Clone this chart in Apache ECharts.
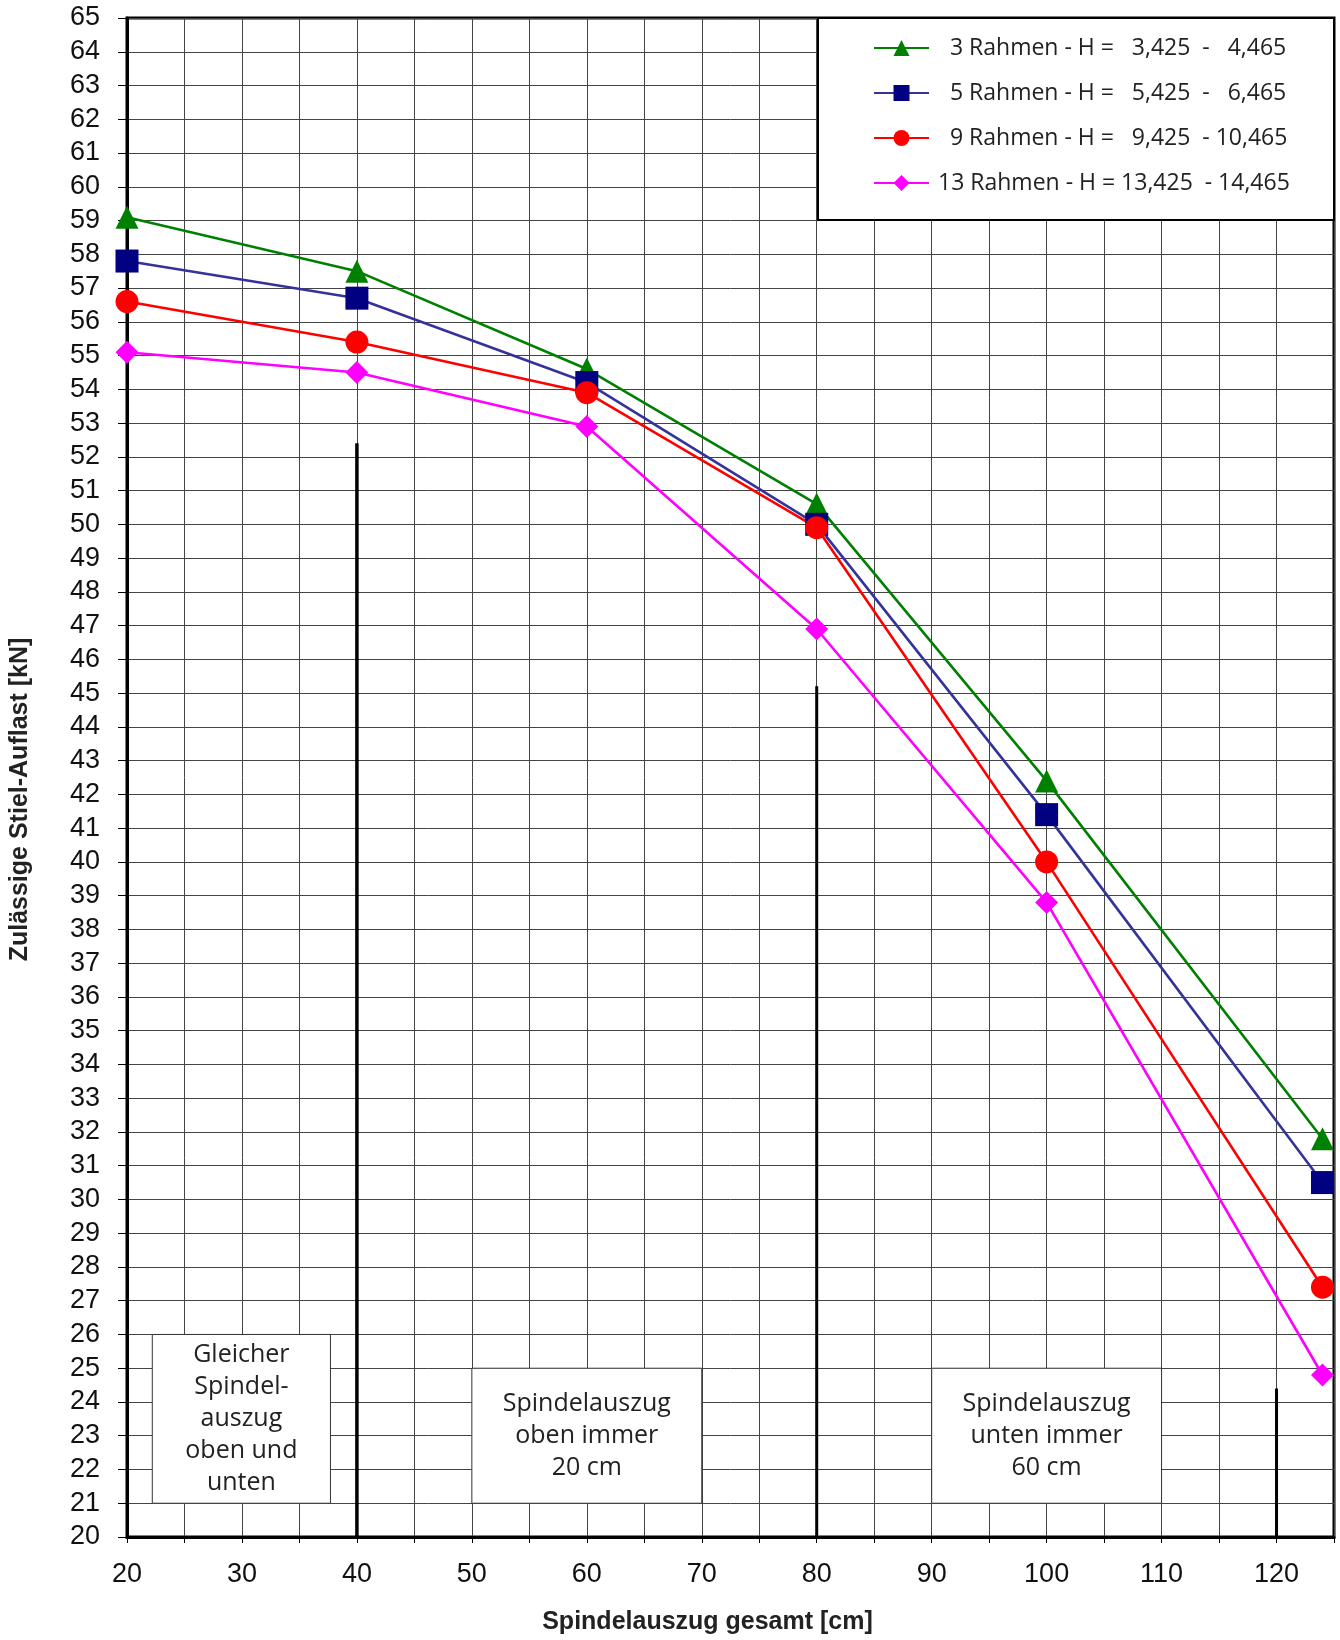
<!DOCTYPE html>
<html>
<head>
<meta charset="utf-8">
<script src="https://cdn.jsdelivr.net/npm/echarts@6/dist/echarts.min.js"></script>
<style>
    html, body { margin: 0; padding: 0; background: #fff; }
    #chart { width: 1340px; height: 1640px; }
</style>
</head>
<body>
<div id="chart"></div>
<script>
    // Spindelauszug gesamt [cm]
    var spindel = [20, 40, 60, 80, 100, 124];

    // zulaessige Stiel-Auflast [kN] je Rahmenanzahl
    var rahmen3  = [59.1, 57.5, 54.6, 50.6, 42.4, 31.8];
    var rahmen5  = [57.8, 56.7, 54.2, 50.0, 41.4, 30.5];
    var rahmen9  = [56.6, 55.4, 53.9, 49.9, 40.0, 27.4];
    var rahmen13 = [55.1, 54.5, 52.9, 46.9, 38.8, 24.8];

    var seriesNames = [
        '  3 Rahmen - H =   3,425  -   4,465',
        '  5 Rahmen - H =   5,425  -   6,465',
        '  9 Rahmen - H =   9,425  - 10,465',
        '13 Rahmen - H = 13,425  - 14,465'
    ];

    // senkrechte Trennlinien (x, oberes Ende)
    var dividerX   = [40, 80, 120];
    var dividerTop = [52.4, 45.2, 24.4];

    // Textkaesten [x1, y1, x2, y2, text]
    var noteBoxes = [
        [22.2, 26, 37.7, 21, 'Gleicher\nSpindel-\nauszug\noben und\nunten'],
        [50, 25, 70, 21, 'Spindelauszug\noben immer\n20 cm'],
        [90, 25, 110, 21, 'Spindelauszug\nunten immer\n60 cm']
    ];

    function pairs(ys) {
        return spindel.map(function (x, i) { return [x, ys[i]]; });
    }

    var myChart = echarts.init(document.getElementById('chart'));

    var lineSeries = [
        { name: seriesNames[0], data: pairs(rahmen3),  symbol: 'triangle', line: '#008000', mark: '#008000' },
        { name: seriesNames[1], data: pairs(rahmen5),  symbol: 'rect',     line: '#333399', mark: '#000080' },
        { name: seriesNames[2], data: pairs(rahmen9),  symbol: 'circle',   line: '#ff0000', mark: '#ff0000' },
        { name: seriesNames[3], data: pairs(rahmen13), symbol: 'diamond',  line: '#ff00ff', mark: '#ff00ff' }
    ].map(function (s) {
        return {
            name: s.name,
            type: 'line',
            data: s.data,
            symbol: s.symbol,
            symbolSize: 23,
            z: 5,
            lineStyle: { color: s.line, width: 2.6 },
            itemStyle: { color: s.mark },
            emphasis: { disabled: true },
            animation: false
        };
    });

    var dividerSeries = dividerX.map(function (x, i) {
        return {
            type: 'line',
            data: [[x, dividerTop[i]], [x, 20]],
            symbol: 'none',
            silent: true,
            z: 3,
            lineStyle: { color: '#000', width: i === 0 ? 3.5 : 3 },
            animation: false
        };
    });

    var boxSeries = {
        type: 'line',
        data: [],
        silent: true,
        z: 3,
        markArea: {
            silent: true,
            itemStyle: { color: '#fff', borderColor: '#333', borderWidth: 1 },
            label: {
                show: true,
                position: 'inside',
                color: '#222',
                fontFamily: 'Open Sans',
                fontSize: 25,
                lineHeight: 32,
                align: 'center',
                verticalAlign: 'middle'
            },
            data: noteBoxes.map(function (b) {
                return [
                    { coord: [b[0], b[1]], name: b[4] },
                    { coord: [b[2], b[3]] }
                ];
            })
        },
        animation: false
    };

    var option = {
        animation: false,
        grid: {
            left: 126,
            right: 6,
            top: 18,
            bottom: 102,
            show: true,
            borderColor: '#000',
            borderWidth: 3
        },
        graphic: [{
            type: 'rect',
            z: 3,
            shape: { x: 818, y: 18, width: 516, height: 202 },
            style: { fill: '#fff', stroke: '#000', lineWidth: 2 }
        }],
        legend: {
            data: seriesNames,
            orient: 'vertical',
            left: 868,
            top: 30,
            itemWidth: 55,
            itemHeight: 20,
            itemGap: 19,
            z: 6,
            textStyle: {
                fontFamily: 'Open Sans',
                fontSize: 23,
                lineHeight: 26,
                color: '#222',
                padding: [0, 0, 0, 4]
            }
        },
        xAxis: {
            type: 'value',
            min: 20,
            max: 125,
            interval: 5,
            name: 'Spindelauszug gesamt [cm]',
            nameLocation: 'middle',
            nameGap: 73,
            nameTextStyle: {
                fontFamily: 'Liberation Sans',
                fontWeight: 'bold',
                fontSize: 25,
                color: '#222',
                padding: [0, 46, 0, 0]
            },
            axisLine: { lineStyle: { color: '#000', width: 3 } },
            axisTick: { show: true, length: 6, lineStyle: { color: '#000' } },
            axisLabel: {
                margin: 24,
                fontFamily: 'Liberation Sans',
                fontSize: 27,
                color: '#111',
                formatter: function (v) {
                    return (v % 10 === 0 && v <= 120) ? String(v) : '';
                }
            },
            splitLine: { show: true, lineStyle: { color: '#444', width: 1 } }
        },
        yAxis: {
            type: 'value',
            min: 20,
            max: 65,
            interval: 1,
            name: 'Zulässige Stiel-Auflast [kN]',
            nameLocation: 'middle',
            nameGap: 94,
            nameTextStyle: {
                fontFamily: 'Liberation Sans',
                fontWeight: 'bold',
                fontSize: 25,
                color: '#222',
                padding: [0, 44, 0, 0]
            },
            axisLine: { show: true, lineStyle: { color: '#000', width: 3 } },
            axisTick: { show: true, length: 9, lineStyle: { color: '#000' } },
            axisLabel: {
                margin: 27,
                fontFamily: 'Liberation Sans',
                fontSize: 27,
                color: '#111'
            },
            splitLine: { show: true, lineStyle: { color: '#444', width: 1 } }
        },
        series: [boxSeries].concat(dividerSeries, lineSeries)
    };

    myChart.setOption(option);
</script>
</body>
</html>
